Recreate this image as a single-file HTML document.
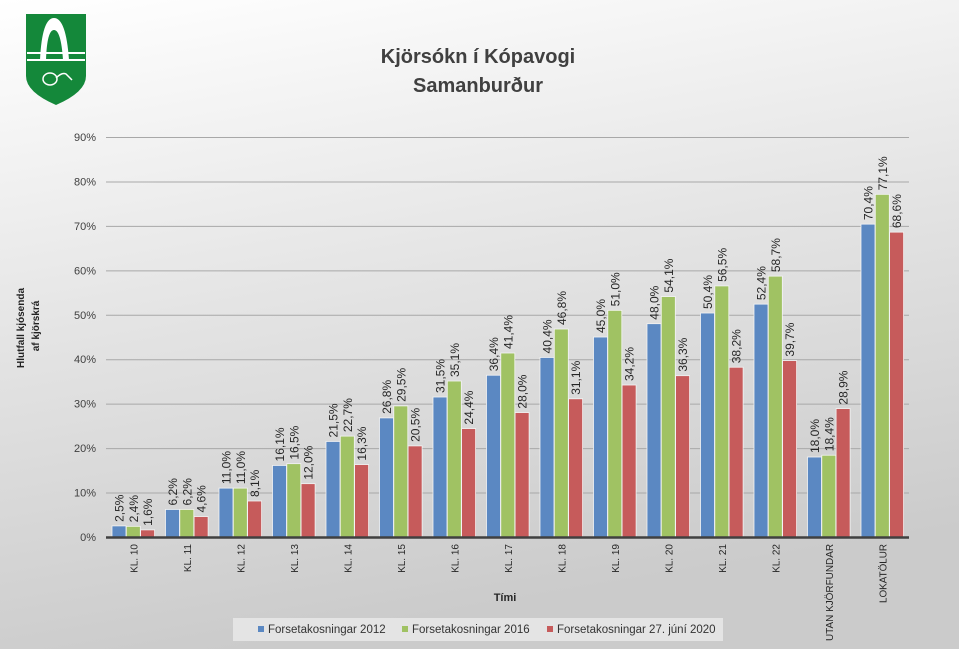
<!DOCTYPE html>
<html><head><meta charset="utf-8"><style>
html,body{margin:0;padding:0;}
body{width:959px;height:649px;overflow:hidden;}
svg text{font-family:"Liberation Sans",sans-serif;}
</style></head><body>
<svg width="959" height="649" viewBox="0 0 959 649" xmlns="http://www.w3.org/2000/svg">
<defs>
<linearGradient id="bg" x1="0" y1="0" x2="0.25" y2="1">
<stop offset="0" stop-color="#ffffff"/>
<stop offset="0.5" stop-color="#e4e4e4"/>
<stop offset="1" stop-color="#cbcbcb"/>
</linearGradient>
</defs>
<rect width="959" height="649" fill="url(#bg)"/>
<!-- logo -->
<path d="M26 14 H86 V76 Q86 92 56 105 Q26 92 26 76 Z" fill="#14883a"/>
<path d="M40 60 Q42 18 54 18 Q66 18 69 60 H63 Q61 30 54 30 Q47 30 46 60 Z" fill="#fff"/>
<rect x="27" y="52" width="58" height="2" fill="#fff"/>
<rect x="27" y="59" width="58" height="2" fill="#fff"/>
<ellipse cx="50" cy="79" rx="7" ry="6" fill="none" stroke="#fff" stroke-width="1.5"/>
<path d="M56 78 Q62 72 66 74 L72 80" fill="none" stroke="#fff" stroke-width="1.5"/>
<!-- title -->
<text x="478" y="63" font-size="20" font-weight="bold" fill="#404040" text-anchor="middle">Kjörsókn  í Kópavogi</text>
<text x="478" y="92" font-size="20" font-weight="bold" fill="#404040" text-anchor="middle">Samanburður</text>
<!-- y label -->
<text transform="translate(24,328) rotate(-90)" font-size="10" font-weight="bold" fill="#222" text-anchor="middle">Hlutfall kjósenda</text>
<text transform="translate(39,326) rotate(-90)" font-size="10" font-weight="bold" fill="#222" text-anchor="middle">af kjörskrá</text>
<g id="grid" stroke="#a8a8a8" stroke-width="1"></g>
<g id="yt" font-size="11" fill="#404040" text-anchor="end"></g>
<g id="bars"></g>
<g id="lbl" font-size="12" fill="#262626"></g>
<line x1="106" y1="537.5" x2="909" y2="537.5" stroke="#404040" stroke-width="2.5"/>
<g id="xl" font-size="10" fill="#262626" text-anchor="end"></g>
<text x="505" y="601" font-size="11" font-weight="bold" fill="#262626" text-anchor="middle">Tími</text>
<rect x="233" y="618" width="490" height="23" fill="#eaeaea" opacity="0.8"/>
<rect x="258" y="626" width="6" height="6" fill="#5b88c2"/>
<text x="268" y="633" font-size="11.5" fill="#333">Forsetakosningar 2012</text>
<rect x="402" y="626" width="6" height="6" fill="#a0c263"/>
<text x="412" y="633" font-size="11.5" fill="#333">Forsetakosningar 2016</text>
<rect x="547" y="626" width="6" height="6" fill="#c65b5b"/>
<text x="557" y="633" font-size="11.5" fill="#333">Forsetakosningar 27. júní 2020</text>
</svg>
<script>
(function(){
var NS="http://www.w3.org/2000/svg";
function el(p,t,a,txt){var e=document.createElementNS(NS,t);for(var k in a)e.setAttribute(k,a[k]);if(txt!==undefined)e.textContent=txt;document.getElementById(p).appendChild(e);}
function Y(v){return 537-v*4.444;}
for(var i=0;i<=9;i++){var y=Y(i*10);if(i>0)el("grid","line",{x1:106,x2:909,y1:y+0.5,y2:y+0.5});el("yt","text",{x:96,y:y+4},(i*10)+"%");}
var cats=["KL. 10","KL. 11","KL. 12","KL. 13","KL. 14","KL. 15","KL. 16","KL. 17","KL. 18","KL. 19","KL. 20","KL. 21","KL. 22","UTAN KJÖRFUNDAR","LOKATÖLUR"];
var d=[[2.5,6.2,11.0,16.1,21.5,26.8,31.5,36.4,40.4,45.0,48.0,50.4,52.4,18.0,70.4],
[2.4,6.2,11.0,16.5,22.7,29.5,35.1,41.4,46.8,51.0,54.1,56.5,58.7,18.4,77.1],
[1.6,4.6,8.1,12.0,16.3,20.5,24.4,28.0,31.1,34.2,36.3,38.2,39.7,28.9,68.6]];
var col=["#5b88c2","#a0c263","#c65b5b"];
for(var c=0;c<15;c++){var cx=133.5+c*53.5;
 for(var s=0;s<3;s++){var v=d[s][c];var x=cx-21.5+s*14.3;var y=Y(v);
  el("bars","rect",{x:x,y:y,width:14,height:537-y,fill:col[s],stroke:"#f4f4f4","stroke-width":0.8});
  el("lbl","text",{transform:"translate("+(x+11.5)+","+(y-4)+") rotate(-90)"},v.toFixed(1).replace(".",",")+"%");}
 var a={transform:"translate("+(cx+4)+",544) rotate(-90)"};
 if(c==13){a.textLength=97;a.lengthAdjust="spacingAndGlyphs";}
 if(c==14){a.textLength=59;a.lengthAdjust="spacingAndGlyphs";}
 el("xl","text",a,cats[c]);}
})();
</script>
</body></html>
